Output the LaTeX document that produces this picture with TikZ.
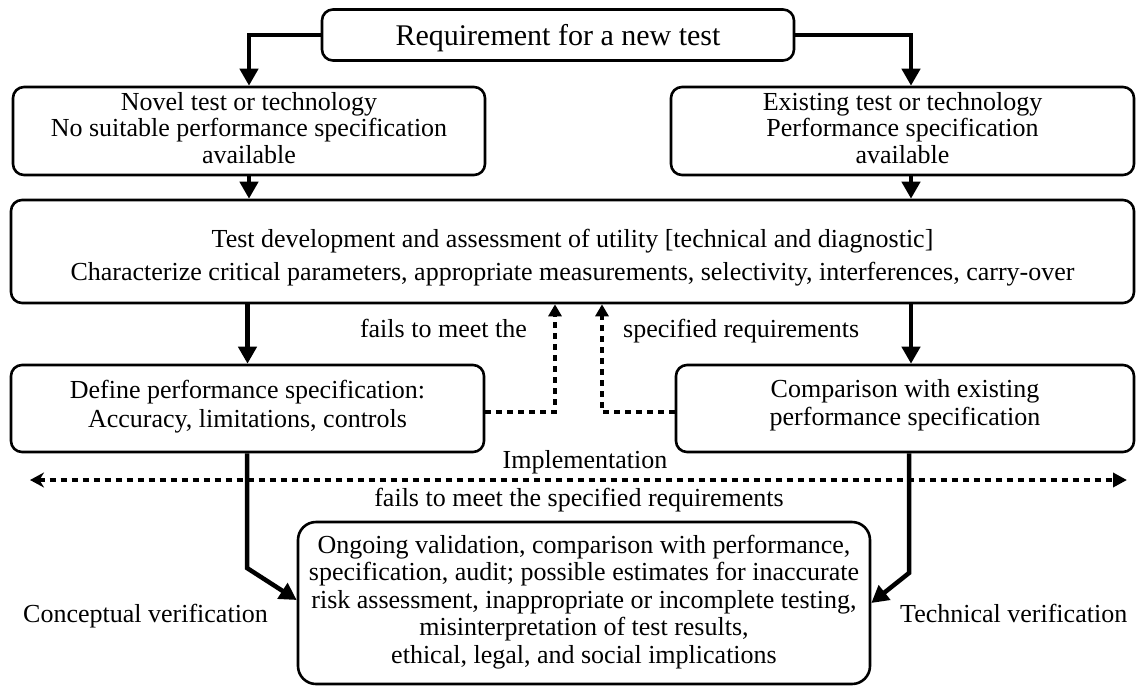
\documentclass[tikz,border=0pt]{standalone}
\usepackage{fontspec}
\setmainfont{Liberation Serif}
\usetikzlibrary{arrows.meta}
\begin{document}
\begin{tikzpicture}[x=1pt,y=-1pt,
  box/.style={draw, line width=2.6pt, rounded corners=11pt, inner sep=0pt,
    align=center, text depth=6pt},
  thickarrow/.style={line width=4.5pt, line join=miter,
    -{Triangle[length=17pt,width=18pt]}},
  dotline/.style={line width=4.5pt, dash pattern=on 6pt off 5pt},
  dotarrow/.style={dotline, -{Triangle[length=12pt,width=13pt]}},
  lbl/.style={inner sep=0pt, font=\fontsize{26}{28}\selectfont}]
\useasboundingbox (0,0) rectangle (1137,686);

% boxes (text height places the last baseline inside each box)
\node[box, minimum width=472pt, minimum height=51pt, text height=26pt,
  font=\fontsize{30}{32}\selectfont] (title) at (558,35)
  {Requirement for a new test};
\node[box, minimum width=472pt, minimum height=88pt, text height=70pt,
  font=\fontsize{26}{26.5}\selectfont] (novel) at (249,131)
  {Novel test or technology\\No suitable performance specification\\available};
\node[box, minimum width=463pt, minimum height=88pt, text height=70pt,
  font=\fontsize{26}{26.5}\selectfont] (exist) at (902.5,131)
  {Existing test or technology\\Performance specification\\available};
\node[box, minimum width=1123pt, minimum height=103pt, text height=63pt,
  font=\fontsize{26}{33}\selectfont] (dev) at (572.5,251.5)
  {Test development and assessment of utility [technical and diagnostic]\\
   Characterize critical parameters, appropriate measurements, selectivity, interferences, carry-over};
\node[box, minimum width=473pt, minimum height=87pt, text height=43pt,
  font=\fontsize{26}{28.5}\selectfont] (define) at (247.5,408.5)
  {Define performance specification:\\Accuracy, limitations, controls};
\node[box, minimum width=458pt, minimum height=87pt, text height=40pt,
  font=\fontsize{26}{28.5}\selectfont] (comp) at (905,408.5)
  {Comparison with existing\\performance specification};
\node[box, rounded corners=18pt, minimum width=572pt, minimum height=162pt,
  text height=126pt, font=\fontsize{26}{27.5}\selectfont] (bottom) at (584,603)
  {Ongoing validation, comparison with performance,\\
   specification, audit; possible estimates for inaccurate\\
   risk assessment, inappropriate or incomplete testing,\\
   misinterpretation of test results,\\
   ethical, legal, and social implications};

% labels
\node[lbl, anchor=base east] (failA) at (527,337) {fails to meet the};
\node[lbl, anchor=base west] (failB) at (623,337) {specified requirements};
\node[lbl, anchor=base] (impl) at (585,468) {Implementation};
\node[lbl, anchor=base] (failC) at (579,506) {fails to meet the specified requirements};
\node[lbl, anchor=base west] (concept) at (23,622) {Conceptual verification};
\node[lbl, anchor=base west] (techn) at (900,622) {Technical verification};

% reference points
\coordinate (rx) at (911,0);
\coordinate (fbL) at (555,412);
\coordinate (fbR) at (602,412);
\coordinate (implL) at (30,480);
\coordinate (implR) at (1127,480);
\coordinate (bendL) at (247,568);
\coordinate (tipL) at (0,600);
\coordinate (bendR) at (909,573);
\coordinate (tipR) at (0,603);

% solid flow
\draw[thickarrow] (title.west) -| (novel.north);
\draw[thickarrow] (title.east) -| (exist.north -| rx);
\draw[thickarrow] (novel.south) -- (novel.south |- dev.north);
\draw[thickarrow] (exist.south -| rx) -- (dev.north -| rx);
\draw[thickarrow] (dev.south -| define.south) -- (define.north);
\draw[thickarrow] (dev.south -| rx) -- (comp.north -| rx);
\draw[thickarrow] (define.south -| bendL) -- (bendL) -- (bottom.west |- tipL);
\draw[thickarrow] (comp.south -| bendR) -- (bendR) -- (bottom.east |- tipR);

% feedback loops
\draw[dotarrow] (define.east |- fbL) -- (fbL) -- (fbL |- dev.south);
\draw[dotarrow] (comp.west |- fbR) -- (fbR) -- (fbR |- dev.south);

% implementation line
\draw[dotline, {Stealth[length=14pt,width=15pt]}-{Triangle[length=14pt,width=14pt]}]
  (implL) -- (implR);
\end{tikzpicture}
\end{document}
